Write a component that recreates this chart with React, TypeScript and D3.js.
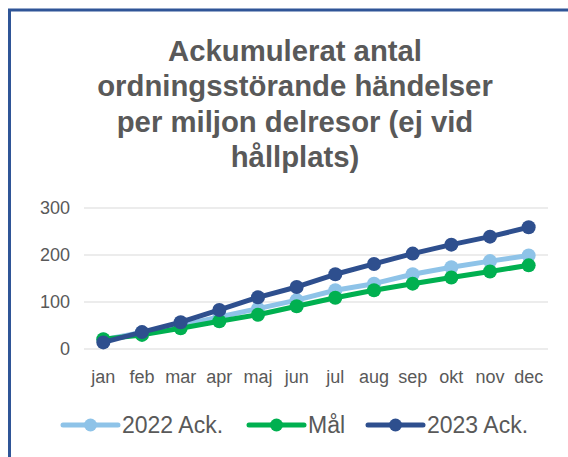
import * as d3 from 'd3';

const months = ['jan', 'feb', 'mar', 'apr', 'maj', 'jun', 'jul', 'aug', 'sep', 'okt', 'nov', 'dec'];
const ack2022 = [20, 35, 50, 68, 86, 104, 125, 139, 159, 174, 187, 199];
const mal = [21, 30, 44, 59, 73, 91, 109, 125, 139, 152, 165, 178];
const ack2023 = [14, 36, 57, 83, 110, 132, 159, 181, 203, 222, 239, 259];
const yTicks = [0, 100, 200, 300];
const titleLines = ['Ackumulerat antal', 'ordningsstörande händelser', 'per miljon delresor (ej vid', 'hållplats)'];

const series = [
  { name: '2022 Ack.', values: ack2022, color: '#8EC3E8' },
  { name: 'Mål', values: mal, color: '#00B050' },
  { name: '2023 Ack.', values: ack2023, color: '#2E4F8E' },
];

const W = 568;
const H = 457;
const font = '"Liberation Sans", Arial, sans-serif';
const textColor = '#595959';

export default function App() {
  const x = d3.scaleBand<string>().domain(months).range([84, 548]);
  const y = d3.scaleLinear().domain([0, 300]).range([349, 208]);
  const cx = (i: number) => (x(months[i]) ?? 0) + x.bandwidth() / 2;
  const line = d3.line<number>()
    .x((_, i) => cx(i))
    .y(d => y(d));

  // legend entries: line start, text after
  const legendX = [63, 249, 368];

  return (
    <svg width={W} height={H} style={{ position: 'absolute', left: 0, top: 0 }}>
      <rect x={0} y={0} width={W} height={H} fill="#fff" />
      <path d={`M9.5,${H} V10 H${W}`} fill="none" stroke="#2F5597" strokeWidth={3} />

      {titleLines.map((t, i) => (
        <text key={t} x={295} y={61 + i * 35.4} textAnchor="middle" fontFamily={font}
          fontWeight="bold" fontSize={29.3} fill={textColor}>{t}</text>
      ))}

      {yTicks.map(t => (
        <g key={t}>
          <line x1={84} x2={548} y1={y(t)} y2={y(t)} stroke="#D9D9D9" strokeWidth={1} />
          <text x={70} y={y(t) + 6} textAnchor="end" fontFamily={font} fontSize={18} fill={textColor}>{t}</text>
        </g>
      ))}

      {months.map((m, i) => (
        <text key={m} x={cx(i)} y={383} textAnchor="middle"
          fontFamily={font} fontSize={18} fill={textColor}>{m}</text>
      ))}

      {series.map(s => (
        <g key={s.name}>
          <path d={line(s.values) ?? ''} fill="none" stroke={s.color} strokeWidth={5} strokeLinejoin="round" />
          {s.values.map((v, i) => (
            <circle key={i} cx={cx(i)} cy={y(v)} r={7} fill={s.color} />
          ))}
        </g>
      ))}

      {series.map((s, i) => (
        <g key={s.name} transform={`translate(${legendX[i]},425)`}>
          <line x1={0} x2={55} y1={0} y2={0} stroke={s.color} strokeWidth={5} strokeLinecap="round" />
          <circle cx={27.5} cy={0} r={6.5} fill={s.color} />
          <text x={59} y={8} fontFamily={font} fontSize={23} fill={textColor}>{s.name}</text>
        </g>
      ))}
    </svg>
  );
}
